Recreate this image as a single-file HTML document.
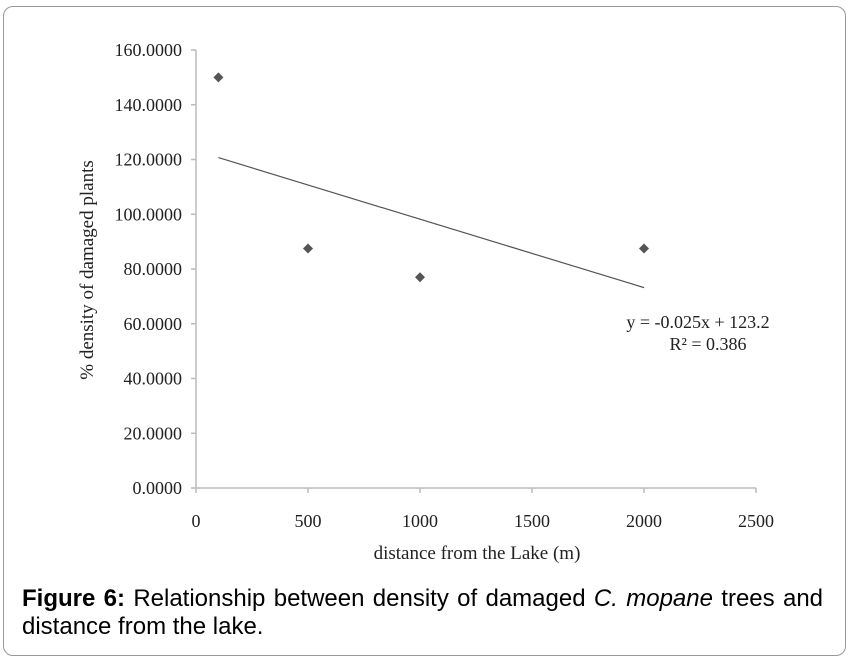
<!DOCTYPE html>
<html><head><meta charset="utf-8"><style>
body{margin:0;background:#fff;width:851px;height:661px;overflow:hidden;position:relative}
#frame{position:absolute;left:3px;top:6px;width:843px;height:650px;border:1px solid #999;border-radius:10px;box-sizing:border-box}
#cap{position:absolute;left:22px;top:585px;width:801px;font-family:"Liberation Sans",sans-serif;font-size:24px;line-height:28px;color:#000}
#cap .l1{text-align:justify;text-align-last:justify;white-space:nowrap}
svg{position:absolute;left:0;top:0}
</style></head><body>
<div id="frame"></div>
<svg id="chart" width="851" height="661"></svg>
<div id="cap"><div class="l1"><b>Figure 6:</b> Relationship between density of damaged <i>C. mopane</i> trees and</div><div>distance from the lake.</div></div>
<script>
const xs=[100,500,1000,2000];
const ys=[150,87.5,77,87.5];
const xTicks=[0,500,1000,1500,2000,2500];
const yTicks=[0,20,40,60,80,100,120,140,160];
const slope=-0.025, intercept=123.2;
const svg=document.getElementById('chart');
const NS='http://www.w3.org/2000/svg';
const X=v=>196+v*(756-196)/2500;
const Y=v=>488-v*(488-50)/160;
function mk(t,a,txt){const e=document.createElementNS(NS,t);for(const k in a)e.setAttribute(k,a[k]);if(txt!=null)e.textContent=txt;svg.appendChild(e);return e;}
const F='"Liberation Serif",serif';
let e=mk('line',{x1:X(0),y1:Y(0),x2:X(0),y2:Y(160),stroke:'#bbb','stroke-width':1.5});

e=mk('line',{x1:X(0),y1:Y(0),x2:X(2500),y2:Y(0),stroke:'#bbb','stroke-width':1.5});

yTicks.forEach(v=>{
 mk('line',{x1:X(0)-5,y1:Y(v),x2:X(0),y2:Y(v),stroke:'#bbb','stroke-width':1.5});
 e=mk('text',{x:182,y:Y(v)+6,'text-anchor':'end','font-family':F,'font-size':18,fill:'#222'},v.toFixed(4));
 
});
xTicks.forEach(v=>{
 mk('line',{x1:X(v),y1:Y(0),x2:X(v),y2:Y(0)+5,stroke:'#bbb','stroke-width':1.5});
 e=mk('text',{x:X(v),y:527,'text-anchor':'middle','font-family':F,'font-size':18,fill:'#222'},String(v));
 
});
e=mk('text',{x:477,y:559,'text-anchor':'middle','font-family':F,'font-size':19,fill:'#222'},'distance from the Lake (m)');

e=mk('text',{x:0,y:0,transform:'translate(93,270) rotate(-90)','text-anchor':'middle','font-family':F,'font-size':19,fill:'#222'},'% density of damaged plants');

const x0=Math.min(...xs),x1=Math.max(...xs);
e=mk('line',{x1:X(x0),y1:Y(slope*x0+intercept),x2:X(x1),y2:Y(slope*x1+intercept),stroke:'#555','stroke-width':1.2});

xs.forEach((v,i)=>{
 const cx=X(v),cy=Y(ys[i]);
 e=mk('polygon',{points:`${cx},${cy-5} ${cx+5},${cy} ${cx},${cy+5} ${cx-5},${cy}`,fill:'#555'});
 
});
e=mk('text',{x:698,y:328,'text-anchor':'middle','font-family':F,'font-size':18,fill:'#222'},'y = -0.025x + 123.2');

e=mk('text',{x:708,y:350,'text-anchor':'middle','font-family':F,'font-size':18,fill:'#222'},'R² = 0.386');

</script>
</body></html>
